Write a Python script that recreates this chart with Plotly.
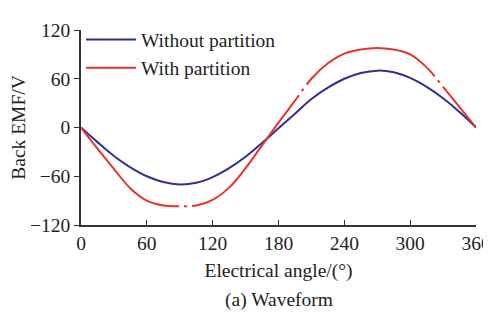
import plotly.graph_objects as go

angle = [0, 15, 30, 45, 60, 75, 90, 105, 120, 135, 150, 165, 180,
         195, 210, 225, 240, 255, 270, 285, 300, 315, 330, 345, 360]
without_partition = [0, -18, -35, -49, -60, -67, -70, -68, -61, -50, -36, -19, -1,
                     17, 35, 49, 60, 67, 70, 68, 61, 50, 36, 19, 0]
with_partition = [0, -26, -51, -75, -90, -96, -97, -96, -89, -74, -50, -22, 6,
                  33, 60, 79, 91, 96, 98, 96, 90, 74, 50, 25, 0]

x_ticks = [0, 60, 120, 180, 240, 300, 360]
y_ticks = [-120, -60, 0, 60, 120]
y_tick_text = ["\u2212120", "\u221260", "0", "60", "120"]

FONT = "Liberation Serif, Times New Roman, serif"
FS = 19.5

fig = go.Figure()
fig.add_trace(go.Scatter(x=angle, y=without_partition, mode="lines",
                         name="Without partition", legendgroup="a",
                         line=dict(color="#2e3192", width=2, shape="spline",
                                   smoothing=1.2)))
fig.add_trace(go.Scatter(x=angle, y=with_partition, mode="lines",
                         name="With partition", legendgroup="b",
                         line=dict(color="#e8332a", width=2, shape="spline",
                                   smoothing=1.0,
                                   dash="132px,5px,3px,5px,158px,5px,3px,5px,150px,5px,3px,5px")))

fig.update_layout(
    width=483, height=312,
    margin=dict(l=73, r=15, t=12, b=95),
    paper_bgcolor="white", plot_bgcolor="white",
    font=dict(family=FONT, size=FS, color="#222"),
    showlegend=True,
    legend=dict(x=0.0, y=1.05, xanchor="left", yanchor="top",
                bgcolor="rgba(0,0,0,0)", itemwidth=50, borderwidth=0,
                tracegroupgap=0, font=dict(size=FS, family=FONT)),
    xaxis=dict(range=[0, 360], tickvals=x_ticks, ticks="inside", ticklen=5,
               tickwidth=1.3, tickcolor="#333", showline=True, linecolor="#333",
               linewidth=1.5, showgrid=False, zeroline=False, automargin=False,
               title=dict(text="Electrical angle/(\u00b0)", standoff=10,
                          font=dict(size=FS)),
               tickfont=dict(size=FS)),
    yaxis=dict(range=[-120, 120], tickvals=y_ticks, ticktext=y_tick_text,
               ticks="outside", ticklen=5, tickwidth=1.3, tickcolor="#333",
               showline=True, linecolor="#333", linewidth=1.5,
               showgrid=False, zeroline=False, automargin=False,
               title=dict(text="Back EMF/V", standoff=4, font=dict(size=FS)),
               tickfont=dict(size=FS)),
    annotations=[dict(text="(a) Waveform", xref="paper", yref="paper",
                      x=0.5, y=-0.32, xanchor="center", yanchor="top",
                      showarrow=False, font=dict(size=FS, family=FONT))],
)

fig.write_html("out.html")
